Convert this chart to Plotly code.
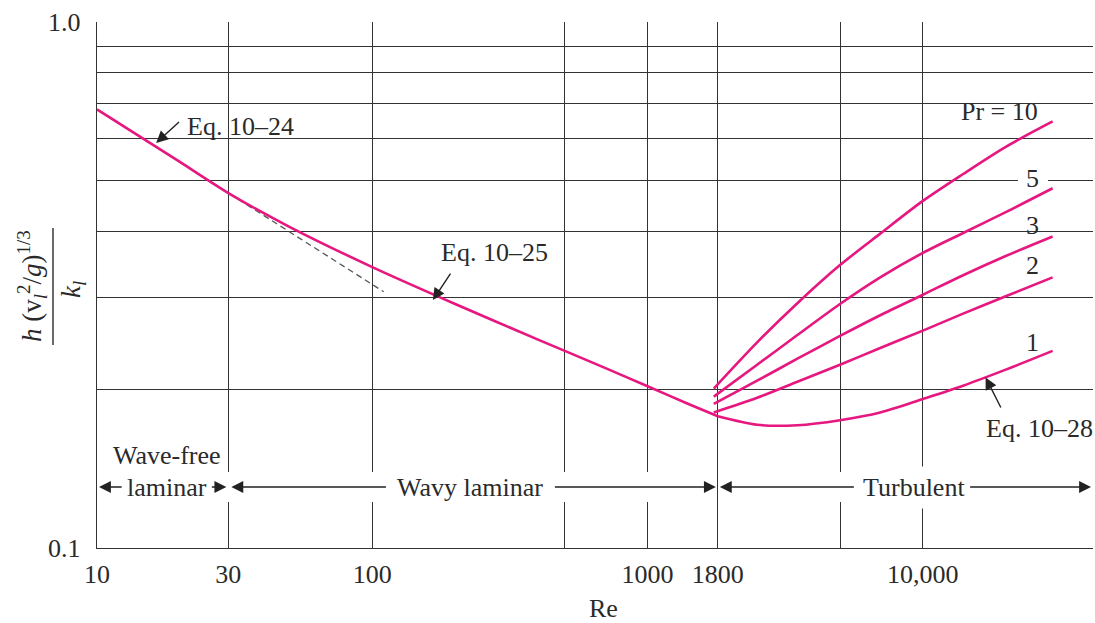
import numpy as np
import plotly.graph_objects as go

# ---------------- data ----------------
re_lam = [10, 20, 30, 50, 100, 200, 400, 700, 1000, 1400, 1800]
nu_lam = [0.682, 0.542, 0.473, 0.408, 0.342, 0.291, 0.249, 0.220, 0.203, 0.188, 0.178]

re_dash = [15, 30, 60, 110]
nu_dash = [0.596, 0.473, 0.376, 0.307]

re_turb1 = [1800, 2500, 3500, 5000, 7000, 10000, 14000, 20000, 29600]
re_turb = [1740, 2500, 3500, 5000, 7000, 10000, 14000, 20000, 29600]
nu_pr1 = [0.178, 0.1715, 0.1712, 0.175, 0.181, 0.192, 0.2035, 0.2183, 0.237]
nu_pr2 = [0.181, 0.193, 0.207, 0.223, 0.240, 0.259, 0.279, 0.301, 0.327]
nu_pr3 = [0.188, 0.208, 0.229, 0.253, 0.277, 0.303, 0.330, 0.359, 0.391]
nu_pr5 = [0.194, 0.223, 0.254, 0.291, 0.327, 0.364, 0.397, 0.435, 0.483]
nu_pr10 = [0.201, 0.246, 0.292, 0.345, 0.396, 0.457, 0.514, 0.579, 0.647]

x_tickvals = [10, 30, 100, 500, 1000, 1800, 5000, 10000]
x_ticktext = ["10", "30", "100", "", "1000", "1800", "", "10,000"]
y_tickvals = [0.1, 0.2, 0.3, 0.4, 0.5, 0.6, 0.7, 0.8, 0.9, 1.0]
y_ticktext = ["0.1", "", "", "", "", "", "", "", "", "1.0"]

pr_labels = ["Pr = 10", "5", "3", "2", "1"]
pr_label_re = [19050, 25100, 25100, 25100, 25100]
pr_label_nu = [0.677, 0.505, 0.411, 0.344, 0.246]

# ---------------- style ----------------
MAG = "#e6177f"
GRID = "#333333"
TXT = "#2a2a2a"
FONT = "Liberation Serif"
FS = 26
X_MAX_LOG = 4.618
PLOT_L, PLOT_W, PLOT_T, PLOT_H = 97, 996, 22, 526

def pxr(xpix):
    return (xpix - PLOT_L) / PLOT_W

def pyr(ypix):
    return (PLOT_T + PLOT_H - ypix) / PLOT_H

fig = go.Figure()

fig.add_trace(go.Scatter(x=re_dash, y=nu_dash, mode="lines",
                         line=dict(color="#555555", width=1.3, dash="6px,4px")))
fig.add_trace(go.Scatter(x=re_lam, y=nu_lam, mode="lines",
                         line=dict(color=MAG, width=2.6, shape="spline", smoothing=0.6)))
fig.add_trace(go.Scatter(x=re_turb1, y=nu_pr1, mode="lines",
                         line=dict(color=MAG, width=2.6, shape="spline", smoothing=0.8)))
for ys in [nu_pr2, nu_pr3, nu_pr5, nu_pr10]:
    fig.add_trace(go.Scatter(x=re_turb, y=ys, mode="lines",
                             line=dict(color=MAG, width=2.6, shape="spline", smoothing=0.8)))

L = np.log10
ann = []
ROW = pyr(487)

def text_ann(txt, x, y, xref="x", yref="y", bg=None, pad=1, size=FS, **kw):
    d = dict(text=txt, x=x, y=y, xref=xref, yref=yref, showarrow=False,
             font=dict(family=FONT, size=size, color=TXT),
             xanchor="center", yanchor="middle", borderpad=pad)
    if bg:
        d["bgcolor"] = bg
    d.update(kw)
    ann.append(d)

ARW = dict(showarrow=True, arrowhead=2, arrowsize=1.7, arrowwidth=1.4,
           arrowcolor="#222222", font=dict(size=2))

def arrow_ann(hx, hy, tx, ty, standoff=0):
    ann.append(dict(text=" ", x=hx, y=hy, ax=tx, ay=ty, xref="x", yref="y",
                    axref="x", ayref="y", standoff=standoff, **ARW))

def row_arrow(hx, tx, standoff=2):
    ann.append(dict(text=" ", x=hx, y=ROW, ax=tx, ay=0, xref="x", yref="paper",
                    axref="x", ayref="pixel", standoff=standoff, **ARW))

# Pr labels
for t, rx, ny in zip(pr_labels, pr_label_re, pr_label_nu):
    text_ann(t, L(rx), L(ny))

# Equation labels with arrows
text_ann("Eq. 10\u201324", L(33.3), L(0.634))
arrow_ann(L(16.4), L(0.589), L(20.2), L(0.651))
text_ann("Eq. 10\u201325", L(279), L(0.364))
arrow_ann(L(166), L(0.296), L(195), L(0.336))
text_ann("Eq. 10\u201328", L(26600), L(0.169))
arrow_ann(L(16900), L(0.211), L(19400), L(0.183))

# Flow-regime row
text_ann("Wave-free", L(17.9), pyr(455), yref="paper")
text_ann("laminar", L(17.9), ROW, yref="paper", bg="white", pad=3)
text_ann("Wavy laminar", L(226), ROW, yref="paper", bg="white", pad=3)
text_ann("Turbulent", L(9290), ROW, yref="paper", bg="white", pad=6)

row_arrow(L(10), L(12.5))
row_arrow(L(30), L(25.7))
row_arrow(L(30), L(114), standoff=3)
row_arrow(L(1800), L(453))
row_arrow(L(1800), L(5710))
row_arrow(X_MAX_LOG, L(14600))

# y-axis title as a fraction
text_ann("<i>h</i> (v<sub><i>l</i></sub><sup>2</sup>/<i>g</i>)<sup>1/3</sup>",
         pxr(32), pyr(286), xref="paper", yref="paper", textangle=-90, size=27)
text_ann("<i>k<sub>l</sub></i>", pxr(73), pyr(290), xref="paper", yref="paper",
         textangle=-90, size=27)
# x-axis title
text_ann("Re", pxr(603), pyr(608), xref="paper", yref="paper")

def xr(re):
    return (np.log10(re) - 1) / (X_MAX_LOG - 1)

def gap(x0, x1, yc, h=3):
    return dict(type="rect", xref="paper", yref="paper", x0=pxr(x0), x1=pxr(x1),
                y0=pyr(yc + h), y1=pyr(yc - h), fillcolor="white",
                line=dict(width=0), layer="above")

shapes = [
    dict(type="line", xref="paper", yref="paper", x0=pxr(53), x1=pxr(53),
         y0=pyr(345), y1=pyr(228), line=dict(color=TXT, width=1.4)),
    # white band interrupting the vertical grid lines in the regime row
    dict(type="rect", xref="paper", yref="paper", x0=0.003, x1=xr(1800) - 0.003,
         y0=pyr(502), y1=pyr(472), fillcolor="white",
         line=dict(width=0), layer="above"),
    dict(type="rect", xref="paper", yref="paper", x0=xr(1800) + 0.003, x1=1.0,
         y0=pyr(502), y1=pyr(472), fillcolor="white",
         line=dict(width=0), layer="above"),
    # gaps of grid lines behind the Pr labels
    gap(948, 1048, 108),
    gap(1018, 1048, 183),
]

fig.update_layout(
    width=1095, height=623,
    margin=dict(l=PLOT_L, r=1095 - PLOT_L - PLOT_W, t=PLOT_T, b=623 - PLOT_T - PLOT_H,
                autoexpand=False),
    paper_bgcolor="white", plot_bgcolor="white",
    showlegend=False,
    font=dict(family=FONT, size=FS, color=TXT),
    annotations=ann, shapes=shapes,
    xaxis=dict(type="log", range=[1, X_MAX_LOG], tickmode="array",
               tickvals=x_tickvals, ticktext=x_ticktext, automargin=False,
               showgrid=True, gridcolor=GRID, gridwidth=1.4,
               showline=True, linecolor=GRID, linewidth=1.4,
               zeroline=False, ticks="", ticklabelstandoff=3,
               tickfont=dict(family=FONT, size=FS, color=TXT)),
    yaxis=dict(type="log", range=[-1, 0], tickmode="array",
               tickvals=y_tickvals, ticktext=y_ticktext, automargin=False,
               showgrid=True, gridcolor=GRID, gridwidth=1.4,
               showline=True, linecolor=GRID, linewidth=1.4,
               zeroline=False, ticks="", ticklabelstandoff=10,
               tickfont=dict(family=FONT, size=FS, color=TXT)),
)

fig.write_html("out.html", config={"displayModeBar": False},
               post_script="document.body.style.margin='0px';"
                           "document.body.style.overflow='hidden';")
